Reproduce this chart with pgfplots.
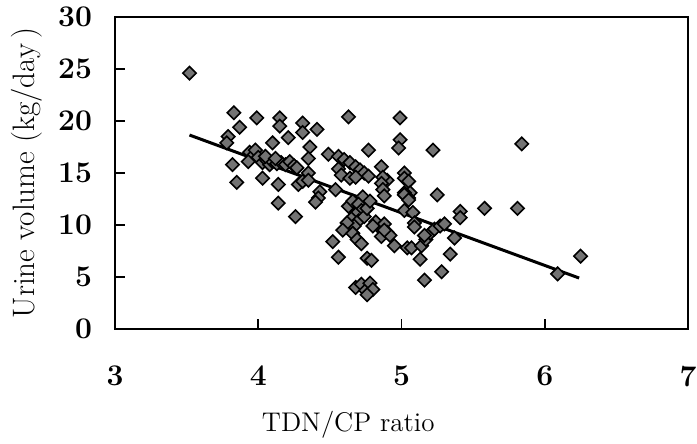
\documentclass[border=0pt]{standalone}
\usepackage{pgfplots}
\pgfplotsset{compat=1.18}
\definecolor{markgray}{gray}{0.45}

\pgfplotstableread{
x y
3.52 24.6
3.83 20.8
3.99 20.3
3.87 19.4
3.79 18.5
3.78 17.9
3.82 15.8
3.85 14.1
4.15 20.3
4.15 19.5
4.21 18.4
4.10 17.9
4.31 19.8
4.31 18.9
4.41 19.2
4.36 17.5
4.35 16.4
4.49 16.8
4.63 20.4
4.99 20.3
4.99 18.2
4.98 17.4
4.77 17.2
5.22 17.2
5.84 17.8
3.94 17.0
3.96 16.6
3.98 17.2
3.93 16.1
4.00 16.5
4.03 16.0
4.06 16.2
4.08 15.8
4.10 16.1
4.13 15.9
4.16 16.0
4.19 15.8
4.22 16.1
4.25 15.7
4.27 15.5
4.05 16.6
4.12 16.4
4.56 16.6
4.60 16.3
4.64 16.0
4.68 15.6
4.71 15.3
4.74 15.0
4.77 14.7
4.56 15.4
4.58 14.8
4.64 14.5
4.68 14.6
4.03 14.5
4.14 13.9
4.28 13.9
4.31 14.2
4.35 15.0
4.35 14.3
4.43 13.2
4.42 12.6
4.40 12.2
4.54 13.4
4.14 12.1
4.26 10.8
4.86 15.6
4.90 14.3
4.87 14.6
4.86 14.0
4.87 13.4
4.88 12.8
4.73 12.7
5.02 15.0
5.02 14.5
5.05 14.2
5.06 13.1
5.02 13.1
5.05 12.6
5.02 12.9
5.05 12.4
5.02 11.4
5.08 11.2
5.09 10.2
5.09 9.8
5.25 12.9
5.41 11.3
5.41 10.7
5.58 11.6
5.81 11.6
6.25 7.0
6.09 5.3
4.63 11.8
4.66 12.3
4.70 12.0
4.72 11.4
4.68 11.0
4.65 10.6
4.70 10.4
4.74 10.8
4.76 11.6
4.67 9.9
4.62 10.2
4.78 12.3
4.59 9.5
4.66 9.2
4.52 8.4
4.56 6.9
4.69 8.6
4.72 8.2
4.76 6.8
4.79 6.6
4.82 10.3
4.85 9.7
4.88 10.1
4.90 9.3
4.86 8.9
4.92 9.0
4.88 9.5
4.80 9.9
4.95 8.0
5.04 7.8
5.07 7.8
5.13 6.7
5.16 4.7
5.28 5.5
5.34 7.2
5.37 8.75
5.14 8.0
5.17 8.6
5.20 9.2
5.23 9.6
5.27 9.9
5.30 10.1
5.16 9.0
4.68 4.0
4.72 4.3
4.75 3.7
4.78 4.4
4.80 3.8
4.76 3.3
}\urinedata

\begin{document}
\begin{tikzpicture}
\begin{axis}[
  at={(0,0)}, anchor=south west,
  scale only axis,
  width=286.5pt, height=156pt,
  xmin=3, xmax=7, ymin=0, ymax=30,
  xtick={3,4,5,6,7},
  ytick={0,5,10,15,20,25,30},
  xtick pos=bottom, ytick pos=left,
  tick align=inside,
  major tick length=5pt,
  every tick/.style={black, line width=0.9pt},
  axis line style={line width=1pt},
  /pgf/number format/assume math mode=true,
  ticklabel style={font=\fontsize{15}{17}\selectfont\bfseries},
  xticklabel style={yshift=-15pt},
  yticklabel style={xshift=-8pt},
  xlabel={TDN/CP ratio},
  ylabel={Urine volume (kg/day\,)},
  xlabel style={at={(axis description cs:0.407,-0.3077)}, anchor=center,
    font=\fontsize{13.5}{15}\selectfont},
  ylabel style={at={(axis description cs:-0.1536,0.5)}, anchor=center,
    font=\fontsize{15.5}{17}\selectfont},
  clip=false,
]
\addplot[only marks, mark=square*,
  mark size=2.35pt,
  mark options={rotate=45, fill=markgray, draw=black, line width=0.8pt}]
  table[x=x, y=y] {\urinedata};
\addplot[black, line width=1.5pt] coordinates {(3.52,18.65) (6.24,4.9)};
\end{axis}
\pgfresetboundingbox
\path[use as bounding box] (-57.5pt,-57.5pt) rectangle (291pt,164.5pt);
\end{tikzpicture}
\end{document}
